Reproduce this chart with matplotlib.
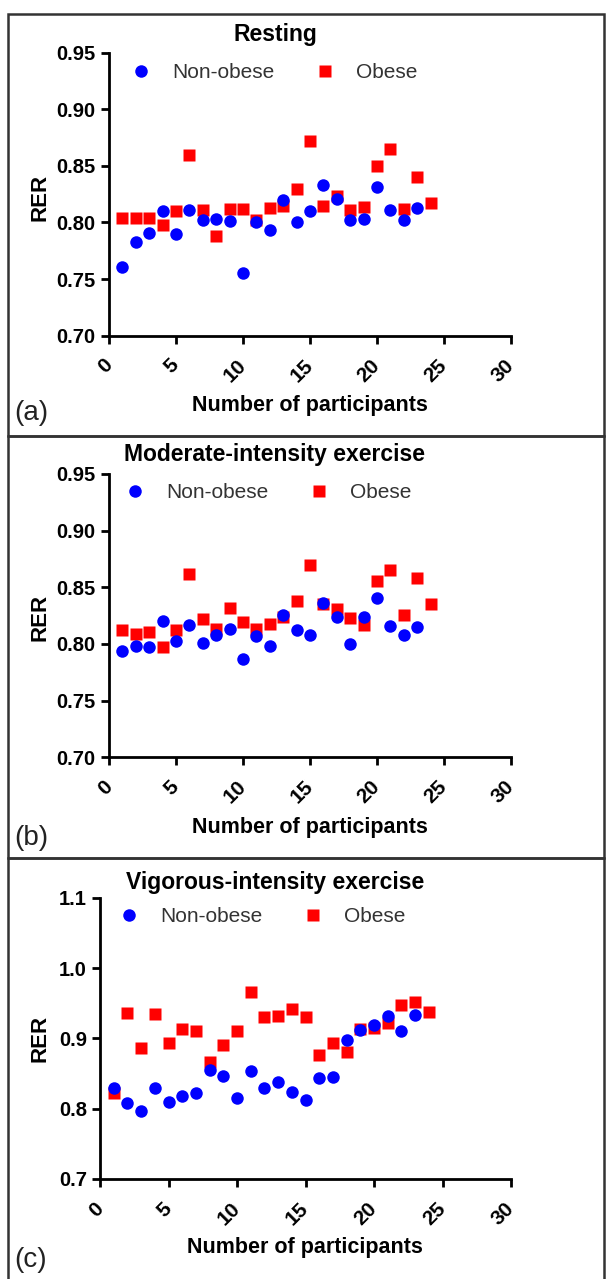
import numpy as np
import matplotlib
matplotlib.use('Agg')
import matplotlib.pyplot as plt
from matplotlib.patches import Rectangle
from matplotlib.lines import Line2D

plt.rcParams['font.family'] = ['Liberation Sans', 'DejaVu Sans']

# participant numbers
x_non = list(range(1, 24))
x_ob = list(range(1, 25))

# (a) resting RER
rest_non = [0.761, 0.783, 0.791, 0.810, 0.790, 0.811, 0.802, 0.803, 0.801, 0.755,
            0.800, 0.793, 0.820, 0.800, 0.810, 0.833, 0.821, 0.802, 0.803, 0.831,
            0.811, 0.802, 0.813]
rest_ob = [0.804, 0.804, 0.804, 0.798, 0.810, 0.860, 0.811, 0.788, 0.812, 0.812,
           0.802, 0.813, 0.815, 0.830, 0.872, 0.815, 0.823, 0.811, 0.814, 0.850,
           0.865, 0.812, 0.840, 0.817]

# (b) moderate-intensity exercise RER
mod_non = [0.794, 0.798, 0.797, 0.820, 0.803, 0.817, 0.801, 0.808, 0.813, 0.787,
           0.807, 0.798, 0.826, 0.812, 0.808, 0.836, 0.824, 0.800, 0.824, 0.841,
           0.816, 0.808, 0.815]
mod_ob = [0.812, 0.809, 0.811, 0.797, 0.812, 0.862, 0.822, 0.813, 0.832, 0.819,
          0.813, 0.818, 0.824, 0.838, 0.870, 0.835, 0.831, 0.823, 0.817, 0.856,
          0.865, 0.826, 0.858, 0.835]

# (c) vigorous-intensity exercise RER
vig_non = [0.829, 0.808, 0.797, 0.830, 0.810, 0.818, 0.822, 0.855, 0.846, 0.815,
           0.854, 0.829, 0.838, 0.824, 0.812, 0.843, 0.845, 0.897, 0.912, 0.919,
           0.932, 0.911, 0.933]
vig_ob = [0.823, 0.936, 0.886, 0.934, 0.893, 0.914, 0.911, 0.866, 0.891, 0.911,
          0.966, 0.930, 0.932, 0.942, 0.930, 0.876, 0.893, 0.881, 0.913, 0.915,
          0.922, 0.947, 0.951, 0.938]

titles = ['Resting', 'Moderate-intensity exercise', 'Vigorous-intensity exercise']
tags = ['(a)', '(b)', '(c)']
yticks_ab = [0.70, 0.75, 0.80, 0.85, 0.90, 0.95]
yticks_c = [0.7, 0.8, 0.9, 1.0, 1.1]

W, H = 606, 1279
fig = plt.figure(figsize=(W / 100, H / 100), dpi=100)


def fx(px):
    return px / W


def fy(py):
    return 1 - py / H


# panel boxes
for top, bot in [(14, 436), (436, 858), (858, 1290)]:
    fig.add_artist(Rectangle((fx(8), fy(bot)), fx(604) - fx(8), fy(top) - fy(bot),
                             transform=fig.transFigure, fill=False,
                             edgecolor='#333333', lw=1.8))

# axes pixel boxes: left, top, right, bottom
boxes = [(109, 52.7, 511, 335.7), (109, 474, 511, 757.3), (100, 897.7, 511, 1179)]
panels = [(rest_non, rest_ob), (mod_non, mod_ob), (vig_non, vig_ob)]
title_y = [35, 455, 883]
leg_pos = [(131, 73), (125, 493), (119, 917)]
xlab_y = [405, 827, 1248]
ylab_y = [197, 617, 1038]
tag_y = [413, 838, 1260]

for i in range(3):
    l, t, r, b = boxes[i]
    ax = fig.add_axes([fx(l), fy(b), fx(r) - fx(l), fy(t) - fy(b)])
    non, ob = panels[i]
    ax.plot(x_non, non, 'o', color='#0000ff', ms=9, mec='none', zorder=3)
    ax.plot(x_ob, ob, 's', color='#ff0000', ms=8.3, mec='none', zorder=2)
    ax.set_xlim(0, 30)
    ax.set_xticks(range(0, 31, 5))
    if i < 2:
        ax.set_ylim(0.70, 0.95)
        ax.set_yticks(yticks_ab)
        ax.set_yticklabels(['%.2f' % v for v in yticks_ab])
    else:
        ax.set_ylim(0.7, 1.1)
        ax.set_yticks(yticks_c)
        ax.set_yticklabels(['%.1f' % v for v in yticks_c])
    for s in ['top', 'right']:
        ax.spines[s].set_visible(False)
    for s in ['left', 'bottom']:
        ax.spines[s].set_linewidth(2)
    ax.tick_params(direction='out', length=6, width=2, labelsize=14.5)
    ax.tick_params(axis='x', pad=9, labelsize=15)
    for lab in ax.get_yticklabels():
        lab.set_fontweight('bold')
    for lab in ax.get_xticklabels():
        lab.set_fontweight('bold')
        lab.set_rotation(45)
        lab.set_ha('right')
        lab.set_va('center')
        lab.set_rotation_mode('anchor')
    for lab in ax.get_xticklabels():
        lab.set_y(-0.02)

    fig.text(fx(275), fy(title_y[i]), titles[i], ha='center', va='center',
             fontsize=16.5, fontweight='bold')
    fig.text(fx(310 if i < 2 else 305), fy(xlab_y[i]), 'Number of participants',
             ha='center', va='center', fontsize=15.5, fontweight='bold')
    fig.text(fx(40), fy(ylab_y[i]), 'RER', ha='center', va='center', rotation=90,
             fontsize=16, fontweight='bold')
    fig.text(fx(14), fy(tag_y[i]), tags[i], ha='left', va='center', fontsize=20,
             color='#222222')

    handles = [Line2D([], [], ls='none', marker='o', color='#0000ff', ms=9, mec='none'),
               Line2D([], [], ls='none', marker='s', color='#ff0000', ms=8.3, mec='none')]
    ax.legend(handles, ['Non-obese', 'Obese'], ncol=2, frameon=False, fontsize=15,
              loc='center left', bbox_to_anchor=(fx(leg_pos[i][0]), fy(leg_pos[i][1])),
              bbox_transform=fig.transFigure, borderpad=0, borderaxespad=0,
              handlelength=1.0, handletextpad=1.0, columnspacing=1.9,
              labelcolor='#333333')

fig.savefig('out.png', dpi=100)
